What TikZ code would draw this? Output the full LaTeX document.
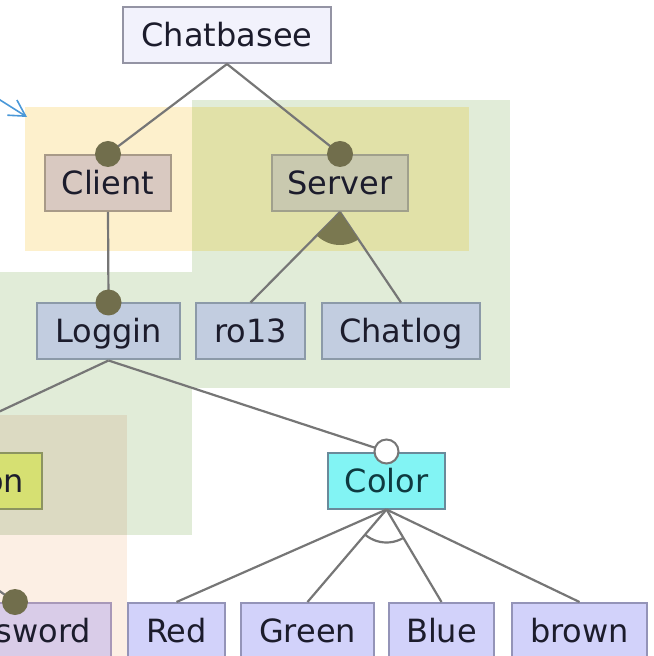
\documentclass[tikz,border=0pt]{standalone}
\usepackage{fontspec}
\setmainfont{DejaVu Sans}
\usepackage{tikz}
\usepackage{xcolor}
\usetikzlibrary{arrows.meta}

\definecolor{linegray}{HTML}{767676}
\definecolor{textdark}{HTML}{1C1C2C}
\definecolor{mandfill}{HTML}{716E4C}
\definecolor{orfill}{HTML}{7A7850}
\definecolor{notearrow}{HTML}{4A98D8}
\definecolor{areaorange}{HTML}{FDF0CC}
\definecolor{areaolive}{HTML}{E1E1A8}
\definecolor{areagreen}{HTML}{E1ECD8}
\definecolor{areatan}{HTML}{DCDAC2}
\definecolor{areapeach}{HTML}{FCEFE4}
\definecolor{rootfill}{HTML}{F2F2FC}
\definecolor{rootline}{HTML}{9494A4}
\definecolor{clientfill}{HTML}{D9C9C1}
\definecolor{clientline}{HTML}{A89A88}
\definecolor{serverfill}{HTML}{C9C9AF}
\definecolor{serverline}{HTML}{A0A08C}
\definecolor{bluefill}{HTML}{C2CDE0}
\definecolor{blueline}{HTML}{8C9AA8}
\definecolor{limefill}{HTML}{D6E072}
\definecolor{limeline}{HTML}{8C9460}
\definecolor{lilacfill}{HTML}{D9CCE8}
\definecolor{lilacline}{HTML}{A898B8}
\definecolor{cyanfill}{HTML}{82F4F4}
\definecolor{cyanline}{HTML}{6A8A9A}
\definecolor{cyantext}{HTML}{0E3A40}
\definecolor{leaffill}{HTML}{D2D2FA}
\definecolor{leafline}{HTML}{9494B8}

\begin{document}
\begin{tikzpicture}[x=0.5pt, y=-0.5pt,
		feature/.style={draw, line width=1pt, inner sep=0pt, minimum height=28pt, text height=11.5pt, text depth=0pt, font=\fontsize{16}{19}\selectfont, text=textdark},
		rootbox/.style={feature, fill=rootfill, draw=rootline},
		clientbox/.style={feature, fill=clientfill, draw=clientline},
		serverbox/.style={feature, fill=serverfill, draw=serverline},
		bluebox/.style={feature, fill=bluefill, draw=blueline},
		limebox/.style={feature, fill=limefill, draw=limeline},
		lilacbox/.style={feature, fill=lilacfill, draw=lilacline},
		cyanbox/.style={feature, fill=cyanfill, draw=cyanline, text=cyantext},
		leafbox/.style={feature, fill=leaffill, draw=leafline},
		conn/.style={draw=linegray, line width=1.1pt},
		mand/.style={fill=mandfill},
		opt/.style={draw=linegray, fill=white, line width=1pt}]
			\useasboundingbox (0,0) rectangle (653,656);
			\clip (0,0) rectangle (653,656);
			\fill[areagreen] (192,100) rectangle (510,388);
			\fill[areaorange] (25,107) rectangle (192,251);
			\fill[areaolive] (192,107) rectangle (469,251);
			\fill[areagreen] (0,272) rectangle (192,535);
			\fill[areatan] (0,415) rectangle (127,535);
			\fill[areapeach] (0,535) rectangle (127,656);
			\coordinate (noteTail) at (-30, 81);
			\coordinate (noteTip) at (27, 117);
			\draw[-{Straight Barb[length=8pt, width=9pt]}, draw=notearrow, line width=0.8pt] (noteTail) to (noteTip);
			\node[rootbox, minimum width=104pt] (chatbasee) at (227, 35) {Chatbasee};
			\node[clientbox, minimum width=63pt] (client) at (108, 183) {Client};
			\node[serverbox, minimum width=68pt] (server) at (340, 183) {Server};
			\node[bluebox, minimum width=71.5pt] (loggin) at (108.5, 331.5) {Loggin};
			\node[bluebox, minimum width=54.5pt] (ro13) at (250.5, 331.5) {ro13};
			\node[bluebox, minimum width=79pt] (chatlog) at (401, 331.5) {Chatlog};
			\node[limebox, anchor=east, inner xsep=9pt, text width=110pt, align=right] (on) at (43, 480.5) {on};
			\node[cyanbox, minimum width=58.5pt] (color) at (386.5, 480.5) {Color};
			\node[lilacbox, anchor=east, inner xsep=10pt, text width=76pt, align=right] (sword) at (112, 631) {sword};
			\node[leafbox, minimum width=48.5pt] (red) at (176.5, 631) {Red};
			\node[leafbox, minimum width=66.5pt] (green) at (307.5, 631) {Green};
			\node[leafbox, minimum width=52.5pt] (blue) at (441.5, 631) {Blue};
			\node[leafbox, minimum width=67.5pt] (brown) at (579.5, 631) {brown};
			\coordinate (swordParent) at (-40, 563);
			\draw[conn] (chatbasee.south) to (client.north);
			\draw[conn] (chatbasee.south) to (server.north);
			\draw[conn] (client.south) to (loggin.north);
			\draw[conn] (server.south) to (ro13.north);
			\draw[conn] (server.south) to (chatlog.north);
			\draw[conn] (loggin.south) to (on.north);
			\draw[conn] (loggin.south) to (color.north);
			\draw[conn] (swordParent) to (sword.north);
			\draw[conn] (color.south) to (red.north);
			\draw[conn] (color.south) to (green.north);
			\draw[conn] (color.south) to (blue.north);
			\draw[conn] (color.south) to (brown.north);
			\begin{scope}
				\clip (server.south) -- (ro13.north) -- (chatlog.north) -- cycle;
				\fill[orfill] (server.south) circle (33);
			\end{scope}
			\begin{scope}
				\clip (color.south) -- (green.north) -- (blue.north) -- cycle;
				\draw[conn] (color.south) circle (33);
			\end{scope}
			\fill[mand] (client.north) circle (13);
			\fill[mand] (server.north) circle (13);
			\fill[mand] (loggin.north) circle (13);
			\fill[mand] (sword.north) circle (13);
			\draw[opt] (color.north) circle (12);
		\end{tikzpicture}
\end{document}
